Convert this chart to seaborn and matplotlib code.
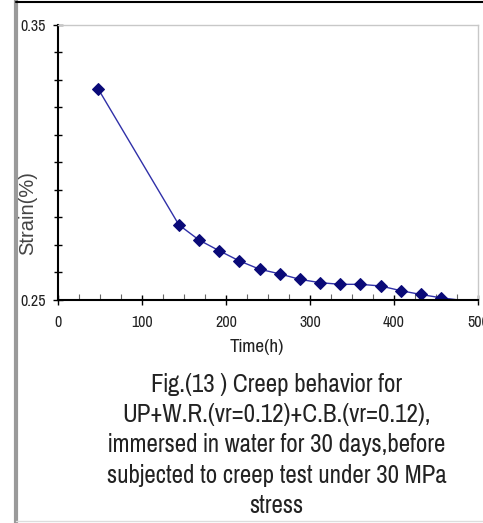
import matplotlib
matplotlib.use("Agg")
import matplotlib.pyplot as plt
import seaborn as sns
import pandas as pd
from matplotlib.lines import Line2D
from matplotlib.ticker import MultipleLocator, FixedLocator

time_h = [48, 144, 168, 192, 216, 240, 264, 288, 312, 336, 360, 384, 408, 432, 456, 504]
strain = [0.3267, 0.2773, 0.2718, 0.2679, 0.2642, 0.2612, 0.2595, 0.2575, 0.2563,
          0.2557, 0.2557, 0.2551, 0.2534, 0.2520, 0.2508, 0.2490]
y_tick_values = [0.25, 0.35]
y_tick_labels = ["0.25", "0.35"]
x_label = "Time(h)"
y_label = "Strain(%)"
caption = ("Fig.(13 ) Creep behavior for\n"
           "UP+W.R.(vr=0.12)+C.B.(vr=0.12),\n"
           "immersed in water for 30 days,before\n"
           "subjected to creep test under 30 MPa\n"
           "stress")

sns.set_style("white")
NARROW = ['Pragati Narrow', 'Liberation Sans', 'DejaVu Sans']
plt.rcParams['font.family'] = NARROW

df = pd.DataFrame({"t": time_h, "s": strain})

fig = plt.figure(figsize=(4.83, 5.23), dpi=100)
ax = fig.add_axes([0.120, 0.4264, 0.8696, 0.5258])
sns.lineplot(data=df, x="t", y="s", ax=ax, color="#3030a8", linewidth=1.0,
             marker="D", markersize=6, markerfacecolor="#0a0a78",
             markeredgecolor="#0a0a78")
ax.set_xlim(0, 500)
ax.set_ylim(0.25, 0.35)

ax.xaxis.set_major_locator(MultipleLocator(100))
ax.xaxis.set_minor_locator(MultipleLocator(25))
ax.yaxis.set_major_locator(FixedLocator(y_tick_values))
ax.yaxis.set_minor_locator(FixedLocator([0.26, 0.27, 0.28, 0.29, 0.30, 0.31, 0.32, 0.33, 0.34]))
ax.set_yticklabels(y_tick_labels)
ax.tick_params(axis="x", which="major", direction="inout", length=7, width=1,
               labelsize=12.5, pad=7, bottom=True, color="black", labelcolor="#222222")
ax.tick_params(axis="x", which="minor", direction="in", length=4, width=0.8,
               bottom=True, color="#666666")
ax.tick_params(axis="y", which="major", direction="inout", length=7, width=1,
               labelsize=12.5, pad=5, left=True, color="black", labelcolor="#222222")
ax.tick_params(axis="y", which="minor", direction="inout", length=6, width=1,
               left=True, color="black")

for side in ["top", "right"]:
    ax.spines[side].set_color("#c8c8c8")
    ax.spines[side].set_linewidth(1)
for side in ["left", "bottom"]:
    ax.spines[side].set_color("black")
    ax.spines[side].set_linewidth(1.5)

ax.set_xlabel(x_label, fontsize=15, color="#222222")
ax.xaxis.set_label_coords(0.474, -0.171)
ax.xaxis.label.set_va("center")
ax.set_ylabel(y_label, fontsize=14.5, color="#444444", family=['Liberation Sans', 'DejaVu Sans'])
ax.yaxis.set_label_coords(-0.071, 0.316)
ax.yaxis.label.set_va("center")

fig.text(0.573, 1 - 445/523, caption, ha="center", va="center", fontsize=19.5,
         linespacing=1.39, color="#222222")

# outer frame
fig.add_artist(Line2D([16/483, 16/483], [0, 1], color="#9a9a9a", linewidth=3))
fig.add_artist(Line2D([16/483, 1], [1 - 2/523, 1 - 2/523], color="black", linewidth=1.5))
fig.add_artist(Line2D([16/483, 1], [1 - 521/523, 1 - 521/523], color="#dddddd", linewidth=1))

fig.savefig("out.png", dpi=100)
